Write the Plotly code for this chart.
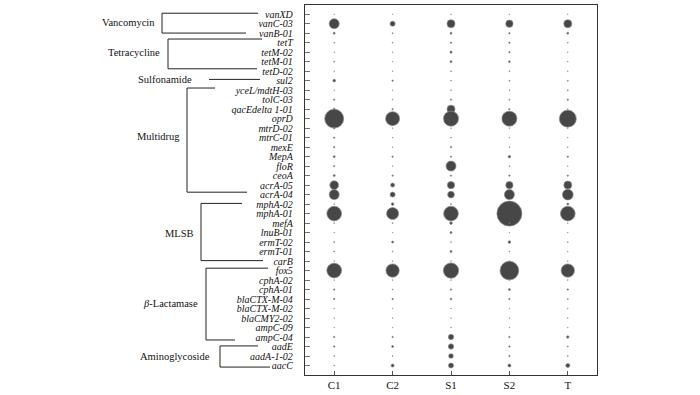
import numpy as np
import plotly.graph_objects as go

genes = ["vanXD", "vanC-03", "vanB-01", "tetT", "tetM-02", "tetM-01", "tetD-02", "sul2",
         "yceL/mdtH-03", "tolC-03", "qacEdelta 1-01", "oprD", "mtrD-02", "mtrC-01", "mexE",
         "MepA", "floR", "ceoA", "acrA-05", "acrA-04", "mphA-02", "mphA-01", "mefA", "lnuB-01",
         "ermT-02", "ermT-01", "carB", "fox5", "cphA-02", "cphA-01", "blaCTX-M-04",
         "blaCTX-M-02", "blaCMY2-02", "ampC-09", "ampC-04", "aadE", "aadA-1-02", "aacC"]

samples = ["C1", "C2", "S1", "S2", "T"]

# relative abundance per sample (same order as genes)
C1 = [0.004, 1.00, 0.04, 0.008, 0.005, 0.01, 0.005, 0.07, 0.005, 0.02, 0.04, 3.61, 0.02, 0.02,
      0.02, 0.04, 0.02, 0.04, 0.76, 1.00, 0.008, 2.16, 0.008, 0.005, 0.01, 0.01, 0.005, 2.16,
      0.005, 0.02, 0.02, 0.005, 0.005, 0.005, 0.02, 0.02, 0.008, 0.008]
C2 = [0.004, 0.25, 0.01, 0.008, 0.005, 0.005, 0.005, 0.02, 0.005, 0.008, 0.02, 1.96, 0.005, 0.005,
      0.005, 0.02, 0.005, 0.02, 0.16, 0.25, 0.07, 1.44, 0.008, 0.005, 0.04, 0.008, 0.005, 1.77,
      0.005, 0.008, 0.02, 0.005, 0.005, 0.005, 0.02, 0.04, 0.008, 0.09]
S1 = [0.004, 0.64, 0.04, 0.02, 0.05, 0.04, 0.008, 0.008, 0.008, 0.02, 0.64, 2.25, 0.005, 0.008,
      0.02, 0.02, 1.00, 0.02, 0.53, 0.45, 0.01, 2.16, 0.07, 0.04, 0.008, 0.04, 0.005, 2.34,
      0.005, 0.02, 0.03, 0.005, 0.005, 0.005, 0.28, 0.28, 0.22, 0.25]
S2 = [0.004, 0.53, 0.02, 0.02, 0.02, 0.03, 0.008, 0.01, 0.008, 0.01, 0.02, 2.25, 0.005, 0.005,
      0.008, 0.06, 0.008, 0.02, 0.53, 1.00, 0.01, 6.25, 0.008, 0.005, 0.07, 0.008, 0.005, 3.50,
      0.005, 0.04, 0.02, 0.005, 0.005, 0.005, 0.02, 0.02, 0.02, 0.09]
T = [0.004, 0.64, 0.04, 0.008, 0.005, 0.005, 0.005, 0.01, 0.01, 0.02, 0.008, 2.89, 0.005, 0.005,
     0.005, 0.02, 0.005, 0.02, 0.64, 1.14, 0.04, 2.16, 0.005, 0.005, 0.008, 0.005, 0.005, 1.77,
     0.005, 0.02, 0.01, 0.005, 0.005, 0.005, 0.06, 0.01, 0.008, 0.16]

group_names = ["Vancomycin", "Tetracycline", "Sulfonamide", "Multidrug", "MLSB",
               "<i>β</i>-Lactamase", "Aminoglycoside"]

series = [C1, C2, S1, S2, T]
rows = list(range(1, len(genes) + 1))

# ---- layout geometry (pixels in a 700x395 canvas) ----
W, H = 700, 395
L, R, TOP, BOT = 305, 597, 4, 377


def fx(p):
    return (p - L) / (R - L)


def fy(p):
    return (BOT - p) / (BOT - TOP)


fig = go.Figure()
for i, (name, vals) in enumerate(zip(samples, series)):
    v = np.array(vals)
    fig.add_trace(go.Scatter(
        x=[i + 1] * len(genes), y=rows, mode="markers",
        marker=dict(size=10 * np.sqrt(v), sizemode="diameter", color="#474747",
                    line=dict(color="#8a8a8a", width=0.7), opacity=1),
        showlegend=False, hoverinfo="skip"))

# brackets: (vertical x, top y, top end x, bottom y, bottom end x, label x, label y)
brackets = [
    (162, 12.3, 258, 32.3, 246, 128, 22),
    (168, 38.3, 262, 68.3, 257, 134, 52),
    (None, 79, 260, None, 209, 165, 79),
    (187, 87.7, 215, 192.7, 247, 158, 137),
    (201, 204, 242, 261.7, 263, 179, 234),
    (206, 269.3, 268, 341.7, 235, 170, 305),
    (220, 347.7, 258, 369, 270, 174.5, 358),
]
shapes = []
annotations = []
lc = dict(color="#222", width=1)
for name, (vx, ty, tx, by, bx, lx, ly) in zip(group_names, brackets):
    if vx is None:
        shapes.append(dict(type="line", xref="paper", yref="paper",
                           x0=fx(bx), x1=fx(tx), y0=fy(ty), y1=fy(ty), line=lc))
    else:
        shapes.append(dict(type="line", xref="paper", yref="paper",
                           x0=fx(vx), x1=fx(vx), y0=fy(ty), y1=fy(by), line=lc))
        shapes.append(dict(type="line", xref="paper", yref="paper",
                           x0=fx(vx), x1=fx(tx), y0=fy(ty), y1=fy(ty), line=lc))
        shapes.append(dict(type="line", xref="paper", yref="paper",
                           x0=fx(vx), x1=fx(bx), y0=fy(by), y1=fy(by), line=lc))
    annotations.append(dict(text=name, xref="paper", yref="paper", x=fx(lx), y=fy(ly),
                            xanchor="center", yanchor="middle", showarrow=False,
                            font=dict(family="Liberation Serif", size=10.5, color="#111")))

fig.update_layout(
    width=W, height=H,
    margin=dict(l=L, r=W - R, t=TOP, b=H - BOT, pad=0),
    paper_bgcolor="white", plot_bgcolor="white",
    shapes=shapes, annotations=annotations,
    xaxis=dict(range=[0.5, 5.5], tickvals=[1, 2, 3, 4, 5], ticktext=samples,
               ticks="inside", ticklen=4, tickcolor="#555", showgrid=False, zeroline=False,
               showline=True, mirror=True, linecolor="#333", linewidth=1.3,
               tickfont=dict(family="Liberation Serif", size=11, color="#111")),
    yaxis=dict(range=[39.0, 0.03], tickvals=rows,
               ticktext=["<i>%s</i>" % g for g in genes],
               ticks="inside", ticklen=5, tickcolor="#777", showgrid=False, zeroline=False,
               showline=True, mirror=True, linecolor="#333", linewidth=1.3,
               ticklabelstandoff=9,
               tickfont=dict(family="Liberation Serif", size=10, color="#111")),
)

fig.write_html("out.html", config={"displayModeBar": False},
               post_script="document.body.style.margin='0px';")
